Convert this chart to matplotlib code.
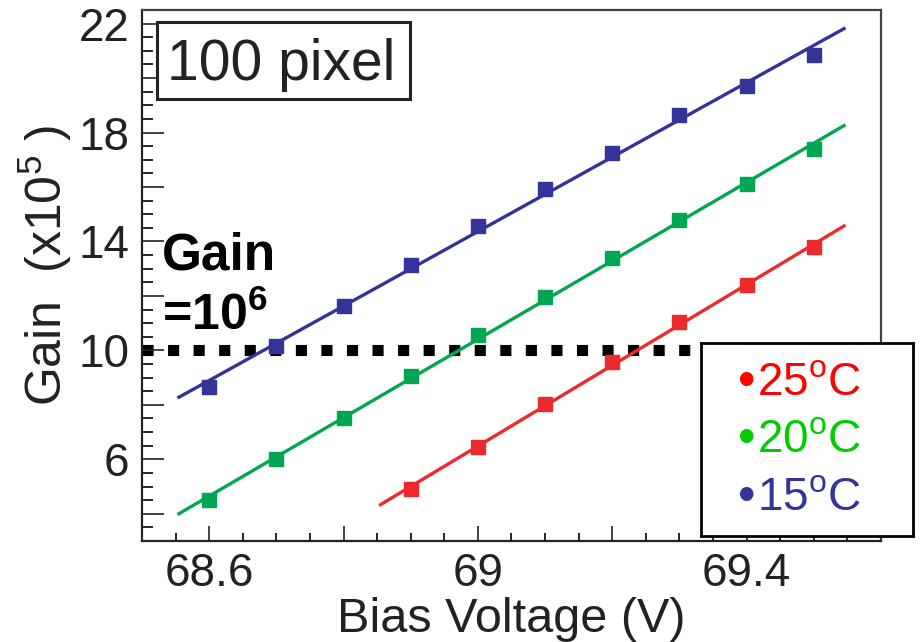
import numpy as np
import matplotlib
matplotlib.use('Agg')
import matplotlib.pyplot as plt
from matplotlib.patches import Rectangle
from matplotlib.ticker import MultipleLocator

plt.rcParams['font.family'] = ['Liberation Sans', 'DejaVu Sans']
plt.rcParams['mathtext.default'] = 'regular'

# Gain (x10^5) versus bias voltage for three temperatures
v_15 = [68.6, 68.7, 68.8, 68.9, 69.0, 69.1, 69.2, 69.3, 69.4, 69.5]
g_15 = [8.64, 10.15, 11.62, 13.14, 14.55, 15.93, 17.24, 18.66, 19.70, 20.85]

v_20 = [68.6, 68.7, 68.8, 68.9, 69.0, 69.1, 69.2, 69.3, 69.4, 69.5]
g_20 = [4.50, 6.01, 7.52, 9.05, 10.55, 11.97, 13.39, 14.80, 16.11, 17.39]

v_25 = [68.9, 69.0, 69.1, 69.2, 69.3, 69.4, 69.5]
g_25 = [4.91, 6.44, 8.04, 9.56, 11.03, 12.39, 13.79]

gain_1e6 = 10

x_ticks = [68.6, 68.8, 69.0, 69.2, 69.4, 69.6]
x_ticklabels = ['68.6', '', '69', '', '69.4', '']
y_ticks = [4, 6, 8, 10, 12, 14, 16, 18, 20, 22]
y_ticklabels = ['', '6', '', '10', '', '14', '', '18', '', '22']

series = [
    (v_15, g_15, '#333399'),
    (v_20, g_20, '#00a651'),
    (v_25, g_25, '#ec2a2e'),
]

fig = plt.figure(figsize=(9.23, 6.42), dpi=100)
ax = fig.add_axes([142 / 923, 1 - 541 / 642, 739 / 923, 531 / 642])

# gain = 10^6 reference
ax.axhline(gain_1e6, color='black', lw=8, linestyle=(0, (1.0, 1.3)), zorder=1.5)

for v, g, c in series:
    v = np.array(v)
    g = np.array(g)
    slope, icpt = np.polyfit(v, g, 1)
    xf = np.array([v[0] - 0.045, v[-1] + 0.045])
    ax.plot(xf, slope * xf + icpt, color=c, lw=2.4, zorder=2)
    ax.plot(v, g, 's', color=c, markersize=10.5, zorder=3)

ax.set_xlim(68.5, 69.6)
ax.set_ylim(3, 22.5)

ax.set_xticks(x_ticks)
ax.set_xticklabels(x_ticklabels)
ax.set_yticks(y_ticks)
ax.set_yticklabels(y_ticklabels)
ax.xaxis.set_minor_locator(MultipleLocator(0.05))
ax.yaxis.set_minor_locator(MultipleLocator(0.5))

ax.tick_params(axis='x', which='major', direction='in', length=11, width=1.2,
               pad=8, labelsize=33, colors='#222222')
ax.tick_params(axis='x', which='minor', direction='in', length=6, width=1.2)
ax.tick_params(axis='y', which='major', direction='in', length=16, width=1.2,
               pad=9, labelsize=33, colors='#222222')
ax.tick_params(axis='y', which='minor', direction='in', length=8, width=1.2)
ax.tick_params(top=False, right=False, which='both')

for side in ['left', 'bottom']:
    ax.spines[side].set_linewidth(1.6)
    ax.spines[side].set_color('#222222')
for side in ['top', 'right']:
    ax.spines[side].set_linewidth(1.6)
    ax.spines[side].set_color('#444444')

fig.text(511 / 923, 1 - 632 / 642, 'Bias Voltage (V)', fontsize=35,
         color='#222222', ha='center', va='baseline')
fig.text(45 / 923, 1 - 265 / 642, 'Gain  (x10$^{5}$ )', fontsize=36,
         color='#222222', ha='center', va='center', rotation=90)

# "100 pixel" label box
fig.patches.append(Rectangle((157 / 923, 1 - 99 / 642), 253 / 923, 77 / 642,
                             transform=fig.transFigure, fill=True, fc='white',
                             ec='#222222', lw=2.2, zorder=5))
fig.text(167 / 923, 1 - 80 / 642, '100 pixel', fontsize=41, color='#222222',
         ha='left', va='baseline', zorder=6)

fig.text(162 / 923, 1 - 270 / 642, 'Gain', fontsize=37, fontweight='bold',
         ha='left', va='baseline')
fig.text(162 / 923, 1 - 330 / 642, '=10$^{6}$', fontsize=36, fontweight='bold',
         ha='left', va='baseline')

# temperature key
lax = fig.add_axes([701 / 923, 1 - 536 / 642, 212 / 923, 193 / 642])
lax.set_xticks([])
lax.set_yticks([])
lax.set_facecolor('white')
for s in lax.spines.values():
    s.set_linewidth(2)
    s.set_color('black')

key_labels = ['25$^{o}$C', '20$^{o}$C', '15$^{o}$C']
key_colors = ['#ff0000', '#00cc00', '#333399']
key_y = [383, 440, 498]
for lbl, c, yy in zip(key_labels, key_colors, key_y):
    fig.text(747 / 923, 1 - yy / 642, '•', fontsize=36, color=c,
             ha='center', va='center')
    fig.text(757 / 923, 1 - yy / 642, lbl, fontsize=33, color=c,
             ha='left', va='center')

fig.savefig('out.png', dpi=100)
